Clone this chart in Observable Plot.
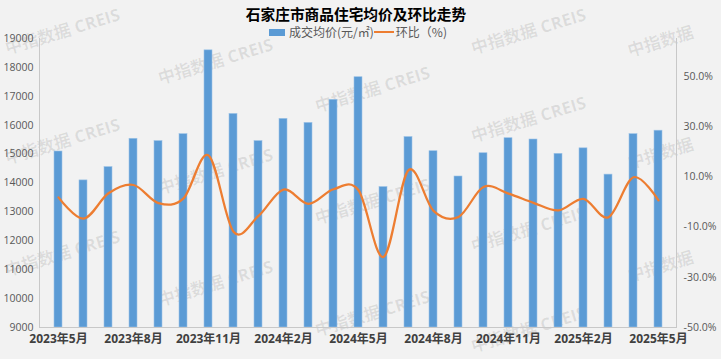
<!DOCTYPE html>
<html><head><meta charset="utf-8">
<script src="https://cdn.jsdelivr.net/npm/d3@7"></script>
<script src="https://cdn.jsdelivr.net/npm/@observablehq/plot@0.6"></script>
<style>
body{margin:0;background:#f2f2f2;}
#wrap{position:relative;width:721px;height:359px;background:#f2f2f2;overflow:hidden;}
#title{position:absolute;left:0;width:712px;top:3px;text-align:center;font-size:14.7px;font-weight:bold;color:#000;font-family:"Noto Sans CJK SC",sans-serif;line-height:22px;}
#legend{position:absolute;top:23px;left:269px;display:flex;align-items:center;font-size:12px;color:#595959;font-family:"Noto Sans CJK SC",sans-serif;line-height:18px;white-space:nowrap;}
#legend .sw{width:16px;height:7px;background:#5b9bd5;margin-right:4px;}
#legend .ln{width:20px;height:2px;background:#ed7d31;margin-right:2px;}
.wm{position:absolute;font-size:17px;font-weight:bold;color:rgba(0,0,0,0.09);transform:translate(-50%,-50%) rotate(-17deg);white-space:nowrap;font-family:"Open Sans","Noto Sans CJK SC",sans-serif;}
#chart{position:absolute;left:0;top:0;}
</style></head>
<body>
<div id="wrap">
  <div id="wms"></div>
  <div id="chart"></div>
  <div id="title">石家庄市商品住宅均价及环比走势</div>
  <div id="legend"><span class="sw"></span><span>成交均价(元/㎡)</span><span class="ln"></span><span>环比（%)</span></div>
</div>
<script>
const months = ["2023年5月","2023年6月","2023年7月","2023年8月","2023年9月","2023年10月","2023年11月","2023年12月",
  "2024年1月","2024年2月","2024年3月","2024年4月","2024年5月","2024年6月","2024年7月","2024年8月","2024年9月",
  "2024年10月","2024年11月","2024年12月","2025年1月","2025年2月","2025年3月","2025年4月","2025年5月"];
const avgPrice = [15090,14090,14550,15530,15450,15690,18590,16390,15450,16220,16080,16880,17660,13860,15590,15100,14225,15030,15550,15505,15010,15200,14290,15690,15810];
const momChange = [1.8,-6.7,3.4,6.7,-0.5,1.4,18.5,-11.9,-5.6,4.9,-0.8,5.0,4.6,-21.9,12.6,-3.6,-6.0,5.9,3.3,-0.4,-3.4,1.2,-6.1,9.8,0.6];
const xTickLabels = months.filter((_, i) => i % 3 === 0);
const priceTicks = [9000,10000,11000,12000,13000,14000,15000,16000,17000,18000,19000];
const pctTicks = [-50,-30,-10,10,30,50];
const priceDomain = [9000, 19000];
const pctDomain = [-50, 65];

const data = months.map((m, i) => ({month: m, price: avgPrice[i], pct: momChange[i]}));
const toLeft = d3.scaleLinear(pctDomain, priceDomain);

// watermarks (decoration)
const wmSpots = [[62,30,1],[62,140,1],[62,252,1],[215,60,1],[215,170,1],[215,282,1],
  [372,88,1],[372,200,1],[372,312,1],[528,30,1],[528,118,1],[528,228,1],[528,328,1],
  [660,40,0],[660,152,0],[660,265,0]];
const wms = document.getElementById("wms");
for (const [x, y, full] of wmSpots) {
  const d = document.createElement("div");
  d.className = "wm";
  d.style.left = x + "px"; d.style.top = y + "px";
  d.textContent = full ? "中指数据 CREIS" : "中指数据";
  wms.appendChild(d);
}

const chart = Plot.plot({
  width: 721, height: 359,
  marginLeft: 39, marginRight: 45, marginTop: 38, marginBottom: 32,
  style: {background: "transparent", fontFamily: "'Open Sans','Noto Sans CJK SC',sans-serif", fontSize: "10px"},
  x: {type: "band", domain: months, paddingInner: 0.686, paddingOuter: 0.343, axis: null, label: null},
  y: {domain: priceDomain, axis: null, label: null},
  marks: [
    Plot.barY(data, {x: "month", y1: priceDomain[0], y2: "price", fill: "#5b9bd5", stroke: "#9dc3e6", strokeWidth: 0.6}),
    Plot.ruleY([priceDomain[0]], {stroke: "#c8c8c8"}),
    Plot.frame({anchor: "left", stroke: "#c8c8c8"}),
    Plot.frame({anchor: "right", stroke: "#c8c8c8"}),
    Plot.line(data, {x: "month", y: d => toLeft(d.pct), stroke: "#ed7d31", strokeWidth: 2.25, curve: "cardinal", tension: 0}),
    Plot.axisY(priceTicks, {anchor: "left", label: null, tickSize: 0, tickPadding: 6, fill: "#595959", fontSize: 10.5, tickFormat: d => String(d)}),
    Plot.axisY(pctTicks.map(p => toLeft(p)), {anchor: "right", label: null, tickSize: 0, tickPadding: 7, fill: "#595959", fontSize: 10.5, tickFormat: v => toLeft.invert(v).toFixed(1) + "%"}),
    Plot.axisX(xTickLabels, {anchor: "bottom", label: null, tickSize: 0, tickPadding: 7, fill: "#404040", fontSize: 12, fontWeight: "bold"})
  ]
});
document.getElementById("chart").appendChild(chart);
</script>
</body></html>
